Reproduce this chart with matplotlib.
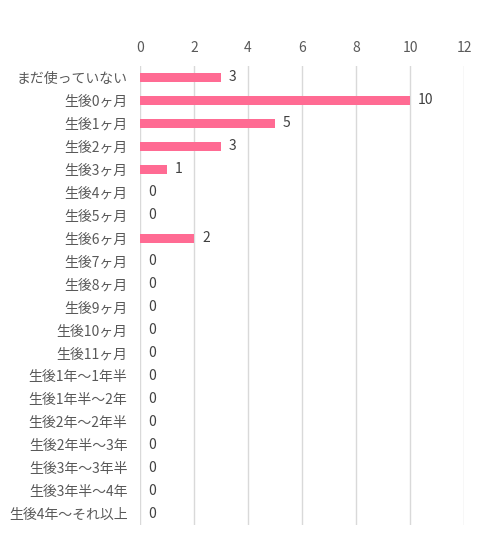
import matplotlib
matplotlib.use("Agg")
import matplotlib.pyplot as plt

plt.rcParams['font.family'] = ['Noto Sans CJK JP', 'DejaVu Sans']

categories = ["まだ使っていない", "生後0ヶ月", "生後1ヶ月", "生後2ヶ月", "生後3ヶ月", "生後4ヶ月",
              "生後5ヶ月", "生後6ヶ月", "生後7ヶ月", "生後8ヶ月", "生後9ヶ月", "生後10ヶ月",
              "生後11ヶ月", "生後1年～1年半", "生後1年半～2年", "生後2年～2年半", "生後2年半～3年",
              "生後3年～3年半", "生後3年半～4年", "生後4年～それ以上"]
values = [3, 10, 5, 3, 1, 0, 0, 2, 0, 0, 0, 0, 0, 0, 0, 0, 0, 0, 0, 0]
xticks = [0, 2, 4, 6, 8, 10, 12]

fig = plt.figure(figsize=(5.0, 5.54), dpi=100)
ax = fig.add_axes([140/500, 1-525/554, 324/500, (525-66)/554])

y = list(range(len(categories)))
ax.barh(y, values, height=0.4, color='#FF6B93', zorder=3)
ax.set_xlim(0, 12)
ax.set_ylim(len(categories) - 0.5, -0.5)
ax.set_xticks(xticks)
ax.set_xticklabels([str(t) for t in xticks])
ax.xaxis.tick_top()
ax.set_yticks(y)
ax.set_yticklabels(categories)
ax.tick_params(axis='both', length=0, labelsize=10, colors='#595959')
ax.tick_params(axis='x', pad=8)
ax.tick_params(axis='y', pad=9)
ax.grid(axis='x', color='#D9D9D9', linewidth=1, zorder=0)
for s in ax.spines.values():
    s.set_visible(False)
for yi, v in zip(y, values):
    ax.text(v + 0.3, yi, str(v), va='center', ha='left', fontsize=10, color='#404040')

fig.savefig("out.png", dpi=100)
